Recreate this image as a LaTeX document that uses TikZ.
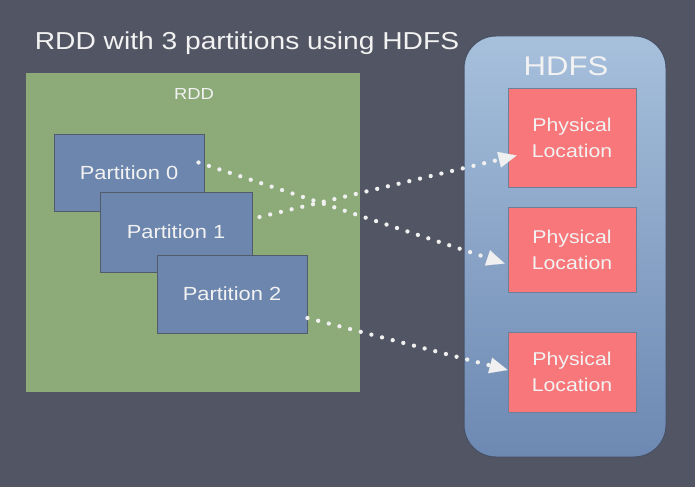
\documentclass[tikz,border=0pt]{standalone}
\usepackage{fontspec}
\setmainfont{Liberation Sans}[FakeStretch=1.15]
\usetikzlibrary{arrows.meta,calc}
\definecolor{bg}{HTML}{525563}
\definecolor{rddgreen}{HTML}{8CAB79}
\definecolor{partblue}{HTML}{6C86AE}
\definecolor{partedge}{HTML}{525B6C}
\definecolor{locred}{HTML}{F7777A}
\definecolor{locedge}{HTML}{6E7F98}
\definecolor{hdfstop}{HTML}{A6C0DC}
\definecolor{hdfsbot}{HTML}{6D88B2}
\definecolor{hdfsedge}{HTML}{485064}
\definecolor{txt}{HTML}{F2F2F2}
\definecolor{dotwhite}{HTML}{F0F0F0}
\begin{document}
\begin{tikzpicture}[x=1pt,y=-1pt,
  part/.style={draw=partedge, line width=1pt, fill=partblue, minimum width=150pt,
    inner sep=0pt, text=txt, font=\fontsize{19}{22}\selectfont},
  loc/.style={fill=locred, draw=locedge, line width=0.8pt, minimum width=128pt,
    inner sep=0pt, text=txt, align=center, font=\fontsize{18.5}{26}\selectfont},
  link/.style={draw=dotwhite, line width=4.3pt, line cap=round, dash pattern=on 0pt off 11pt,
    -{Triangle[length=18pt,width=16pt,line width=0.1pt]}}
]
\useasboundingbox (0,0) rectangle (695,487);
\fill[bg] (0,0) rectangle (695,487);

% title
\node[text=txt, font=\fontsize{24.5}{28}\selectfont] (title) at (247,43) {RDD with 3 partitions using HDFS};

% RDD container
\node[fill=rddgreen, minimum width=334pt, minimum height=319pt, inner sep=0pt] (rdd) at (193,232.5) {};
\node[text=txt, font=\fontsize{16}{18}\selectfont] (rddlbl) at (194,94) {RDD};

% partitions
\node[part, minimum height=77pt] (p0) at (129,172.5) {Partition 0};
\node[part, minimum width=152pt, minimum height=80pt] (p1) at (176,232) {Partition 1};
\node[part, minimum height=78pt] (p2) at (232,294) {Partition 2};

% HDFS container
\node[rounded corners=32pt, top color=hdfstop, bottom color=hdfsbot, draw=hdfsedge, line width=1pt,
  minimum width=202pt, minimum height=421pt, inner sep=0pt] (hdfs) at (565,246.5) {};
\node[text=txt, font=\fontsize{27}{30}\selectfont] (hdfslbl) at (566,66) {HDFS};

% physical locations
\node[loc, minimum height=99pt] (r1) at (572,137.5) {Physical\\Location};
\node[loc, minimum height=85pt] (r2) at (572,249.5) {Physical\\Location};
\node[loc, minimum height=80pt] (r3) at (572,372) {Physical\\Location};

% connectors
\draw[link] ($(p0.east)+(-6,-10)$) -- ($(r2.west)+(-3,14)$);
\draw[link] ($(p1.east)+(7,-15)$) -- ($(r1.west)+(9,18)$);
\draw[link] ($(p2.east)+(0,24)$) -- ($(r3.west)+(0,-2)$);
\end{tikzpicture}
\end{document}
